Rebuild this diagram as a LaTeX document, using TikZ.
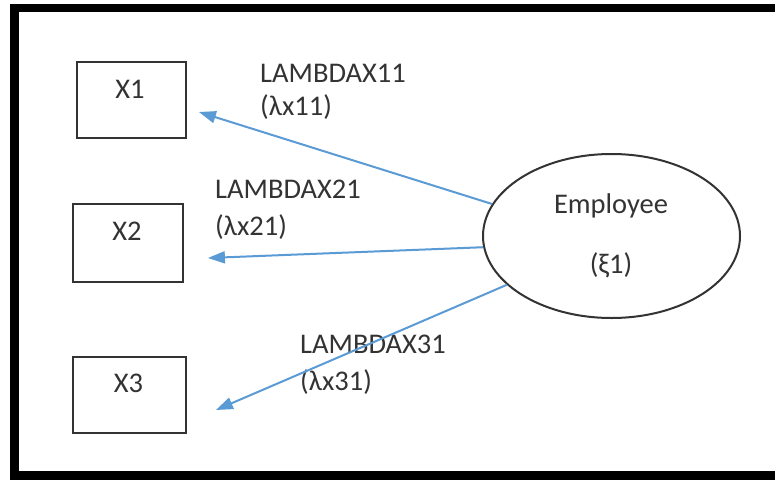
\documentclass[tikz,border=0pt]{standalone}
\usepackage{fontspec}
\setmainfont{Carlito}
\usetikzlibrary{arrows.meta,shapes.geometric,calc}
\definecolor{arrowblue}{HTML}{5B9BD5}
\definecolor{ink}{HTML}{333333}
\begin{document}
\begin{tikzpicture}[x=1pt,y=-1pt,
  box/.style={draw=ink, line width=1.8pt, rectangle, inner sep=0pt},
  txt/.style={text=ink, font=\fontsize{28.5}{34}\selectfont, inner sep=0pt},
  arr/.style={draw=arrowblue, line width=2pt, -{Triangle[length=17pt,width=12pt]}},
]
\useasboundingbox (0,0) rectangle (775,479);
\fill[white] (0,0) rectangle (775,479);
\draw[line width=8.5pt] (14.5,8) rectangle (800,475.5);

\node[box, minimum width=109pt, minimum height=76pt] (x1) at (131.5,100) {};
\node[box, minimum width=110pt, minimum height=78pt] (x2) at (128,243) {};
\node[box, minimum width=113pt, minimum height=76pt] (x3) at (129.5,395) {};
\node[txt, anchor=base] (x1t) at (130,98) {X1};
\node[txt, anchor=base] (x2t) at (127,240) {X2};
\node[txt, anchor=base] (x3t) at (128.5,392) {X3};

\node[draw=ink, line width=2pt, ellipse, minimum width=257pt, minimum height=164pt, inner sep=0pt] (emp) at (611.5,236) {};
\node[txt, anchor=base] (empa) at (611,213) {Employee};
\node[txt, anchor=base] (empb) at (611,273) {(ξ1)};

\node[txt, anchor=base west] (l1a) at (260,82) {LAMBDAX11};
\node[txt, anchor=base west] (l1b) at (260,115) {(λx11)};
\node[txt, anchor=base west] (l2a) at (215,198) {LAMBDAX21};
\node[txt, anchor=base west] (l2b) at (215,235) {(λx21)};
\node[txt, anchor=base west] (l3a) at (300,353) {LAMBDAX31};
\node[txt, anchor=base west] (l3b) at (300,390) {(λx31)};

\coordinate (t1) at ($(x1.east)+(12,12)$);
\coordinate (t2) at ($(x2.east)+(24,15)$);
\coordinate (t3) at ($(x3.east)+(29,15)$);

\draw[arr] (emp.165.5) -- (t1);
\draw[arr] (emp.185.4) -- (t2);
\draw[arr] (emp.205.1) -- (t3);
\end{tikzpicture}
\end{document}
